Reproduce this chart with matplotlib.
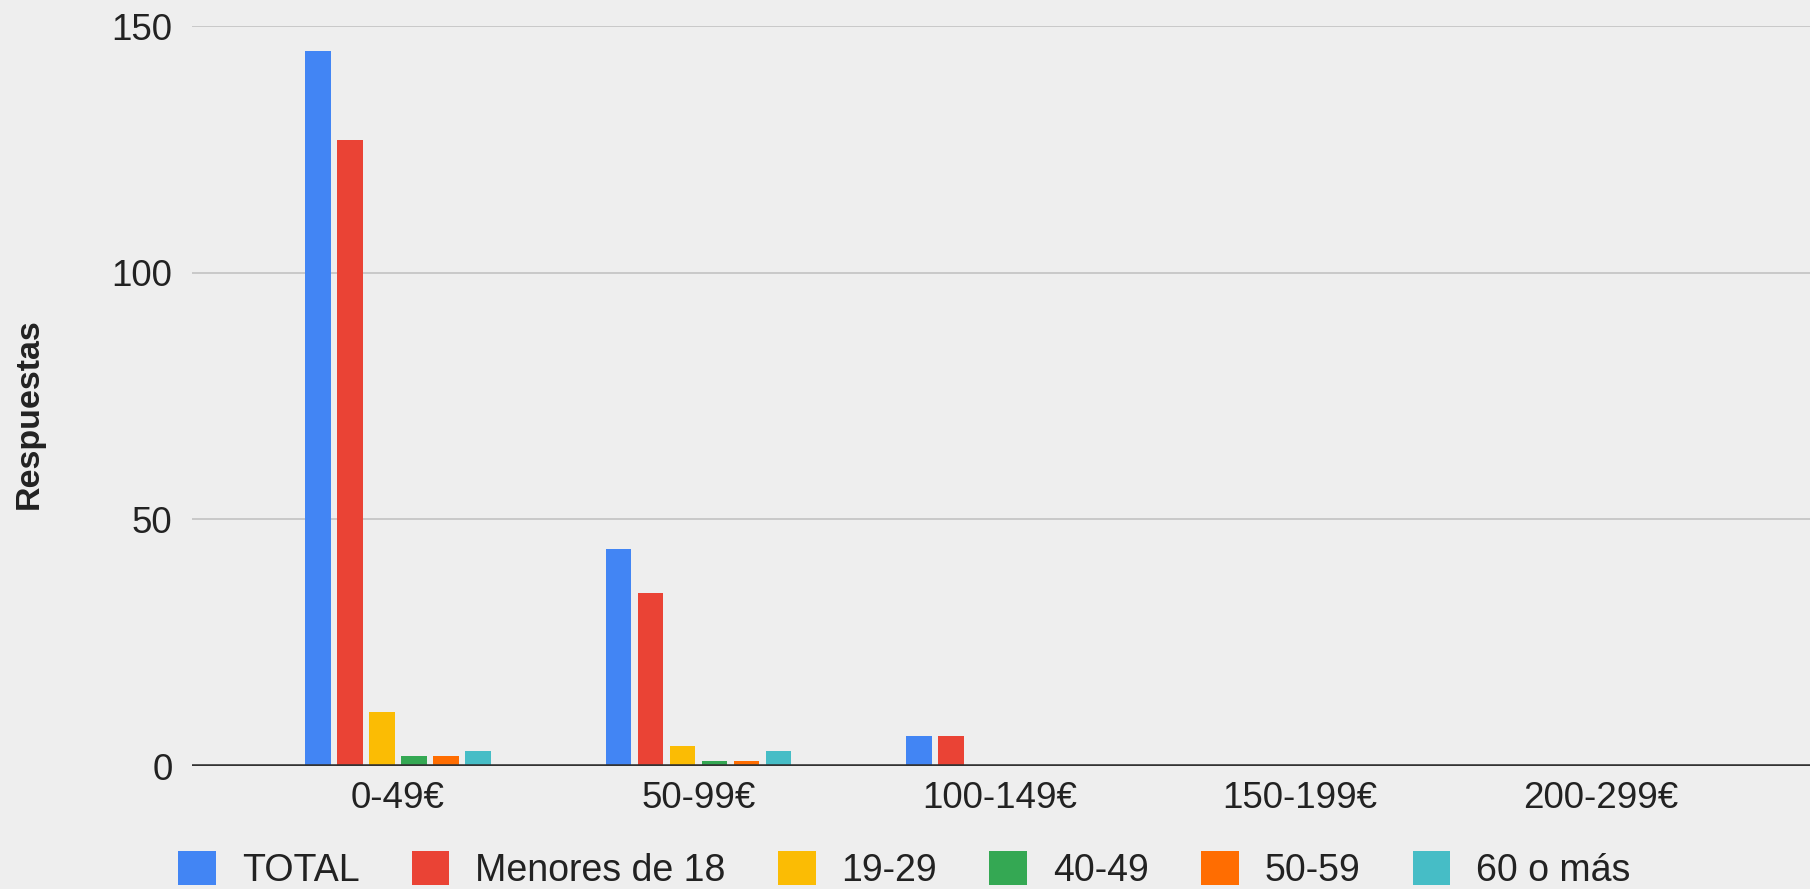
import numpy as np
import matplotlib
matplotlib.use('Agg')
import matplotlib.pyplot as plt
from matplotlib.patches import Patch

plt.rcParams['font.family'] = ['Liberation Sans', 'DejaVu Sans']

categories = ['0-49€', '50-99€', '100-149€', '150-199€', '200-299€']
series = ['TOTAL', 'Menores de 18', '19-29', '40-49', '50-59', '60 o más']
total = [145, 44, 6, 0, 0]
menores_18 = [127, 35, 6, 0, 0]
edad_19_29 = [11, 4, 0, 0, 0]
edad_40_49 = [2, 1, 0, 0, 0]
edad_50_59 = [2, 1, 0, 0, 0]
edad_60_mas = [3, 3, 0, 0, 0]
colors = ['#4285f4', '#ea4335', '#fbbc04', '#34a853', '#ff6d01', '#46bdc6']

values = [total, menores_18, edad_19_29, edad_40_49, edad_50_59, edad_60_mas]

bg = '#eeeeee'
fig = plt.figure(figsize=(18.10, 8.89), dpi=100, facecolor=bg)
ax = fig.add_axes([0.1061, 0.1383, 0.8939, 0.8324], facecolor=bg)

x = np.arange(len(categories))
pitch = 0.1065
width = 0.085
offsets = (np.arange(len(series)) - (len(series) - 1) / 2) * pitch
for vals, off, col, name in zip(values, offsets, colors, series):
    ax.bar(x + off, vals, width=width, color=col, label=name, zorder=3)

ax.set_xlim(-0.685, 4.697)
ax.set_ylim(0, 150)
ax.set_yticks([0, 50, 100, 150])
ax.set_xticks(x)
ax.set_xticklabels(categories)

ax.grid(axis='y', color='#c2c2c2', linewidth=1.2, zorder=0)
ax.axhline(0, color='#333333', linewidth=2.6, zorder=4)
for s in ax.spines.values():
    s.set_visible(False)
ax.tick_params(axis='both', length=0, labelsize=26.5, labelcolor='#222222')
ax.tick_params(axis='y', pad=14)
ax.tick_params(axis='x', pad=11)

fig.text(0.016, 1 - 414 / 889, 'Respuestas', rotation=90, ha='center', va='center',
         fontsize=24.5, fontweight='bold', color='#222222')

handles = [Patch(facecolor=c, edgecolor='none') for c in colors]
fig.legend(handles, series, loc='center left', bbox_to_anchor=(178 / 1810, 1 - 870 / 889),
           ncol=6, frameon=False, fontsize=27, handlelength=1.01, handleheight=1.0,
           handletextpad=0.69, columnspacing=1.39, borderpad=0, borderaxespad=0,
           labelcolor='#222222')

fig.savefig('out.png', dpi=100, facecolor=bg)
